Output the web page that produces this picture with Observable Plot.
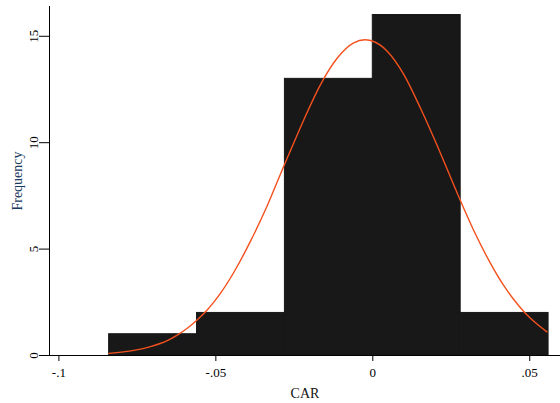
<!DOCTYPE html>
<html>
<head>
<meta charset="utf-8">
<script src="https://cdn.jsdelivr.net/npm/d3@7"></script>
<script src="https://cdn.jsdelivr.net/npm/@observablehq/plot@0.6"></script>
<style>
  html, body { margin: 0; padding: 0; background: #fff; }
  #chart svg { display: block; font-family: "Liberation Serif", "Times New Roman", Times, serif; }
  #chart svg text { font-family: "Liberation Serif", "Times New Roman", Times, serif; }
</style>
</head>
<body>
<div id="chart"></div>
<script>
// Histogram bins (CAR) and frequencies
const binStarts = [-0.084, -0.056, -0.028, 0.000, 0.028];
const binEnds   = [-0.056, -0.028, 0.000, 0.028, 0.056];
const counts    = [1, 2, 13, 16, 2];

// Overlaid normal-density curve
const curveX = [-0.0841, -0.0761, -0.0708, -0.0655, -0.0623, -0.0591, -0.0559, -0.0527, -0.0506, -0.0485, -0.0443, -0.0390, -0.0336, -0.0283, -0.0262, -0.0220, -0.0167, -0.0113, -0.0061, -0.0025, -0.0007, 0.0046, 0.0099, 0.0152, 0.0205, 0.0247, 0.0279, 0.0322, 0.0375, 0.0417, 0.0449, 0.0486, 0.0524, 0.0555];
const curveY = [0.10, 0.24, 0.42, 0.70, 0.96, 1.28, 1.68, 2.15, 2.52, 2.93, 3.90, 5.36, 7.05, 8.92, 9.64, 11.07, 12.72, 13.98, 14.69, 14.84, 14.80, 14.30, 13.20, 11.62, 9.87, 8.40, 7.28, 5.86, 4.33, 3.29, 2.63, 1.99, 1.47, 1.11];

// Axis ticks and labels
const xTicks = [-0.1, -0.05, 0, 0.05];
const xTickLabels = ["-.1", "-.05", "0", ".05"];
const yTicks = [0, 5, 10, 15];
const yTickLabels = ["0", "5", "10", "15"];
const xTitle = "CAR";
const yTitle = "Frequency";

const bars = counts.map((c, i) => ({x1: binStarts[i], x2: binEnds[i], y: c}));
const curve = curveX.map((x, i) => ({x, y: curveY[i]}));

const chart = Plot.plot({
  width: 560,
  height: 403,
  marginLeft: 49,
  marginRight: 0,
  marginTop: 6,
  marginBottom: 48,
  style: {fontFamily: "'Liberation Serif', 'Times New Roman', Times, serif", fontSize: "13px", background: "#fff", color: "#000"},
  x: {domain: [-0.103, 0.0598]},
  y: {domain: [0, 16.4]},
  marks: [
    Plot.rectY(bars, {x1: "x1", x2: "x2", y: "y", fill: "#181818", stroke: "#181818", strokeWidth: 1, inset: 0}),
    Plot.line(curve, {x: "x", y: "y", stroke: "#f4511e", strokeWidth: 1.4, curve: "monotone-x"}),
    Plot.axisX({ticks: xTicks, tickFormat: (d) => xTickLabels[xTicks.indexOf(d)], tickSize: 6, tickPadding: 6, label: null, stroke: "#000", fill: "#000"}),
    Plot.axisY({ticks: yTicks, tickFormat: (d) => yTickLabels[yTicks.indexOf(d)], tickSize: 10, tickPadding: 2, tickRotate: -90, label: null, stroke: "#000", fill: "#000"}),
    Plot.ruleY([0], {x1: -0.1049, x2: 0.0598, stroke: "#000", strokeWidth: 1}),
    Plot.ruleX([-0.103], {stroke: "#000", strokeWidth: 1}),
    Plot.text([xTitle], {frameAnchor: "bottom", dy: 38, lineAnchor: "middle", textAnchor: "middle", fontSize: 14, fill: "#111"}),
    Plot.text([yTitle], {frameAnchor: "left", dx: -32, rotate: -90, textAnchor: "middle", lineAnchor: "middle", fontSize: 14, fill: "#1a3a60"})
  ]
});
document.getElementById("chart").appendChild(chart);
</script>
</body>
</html>
